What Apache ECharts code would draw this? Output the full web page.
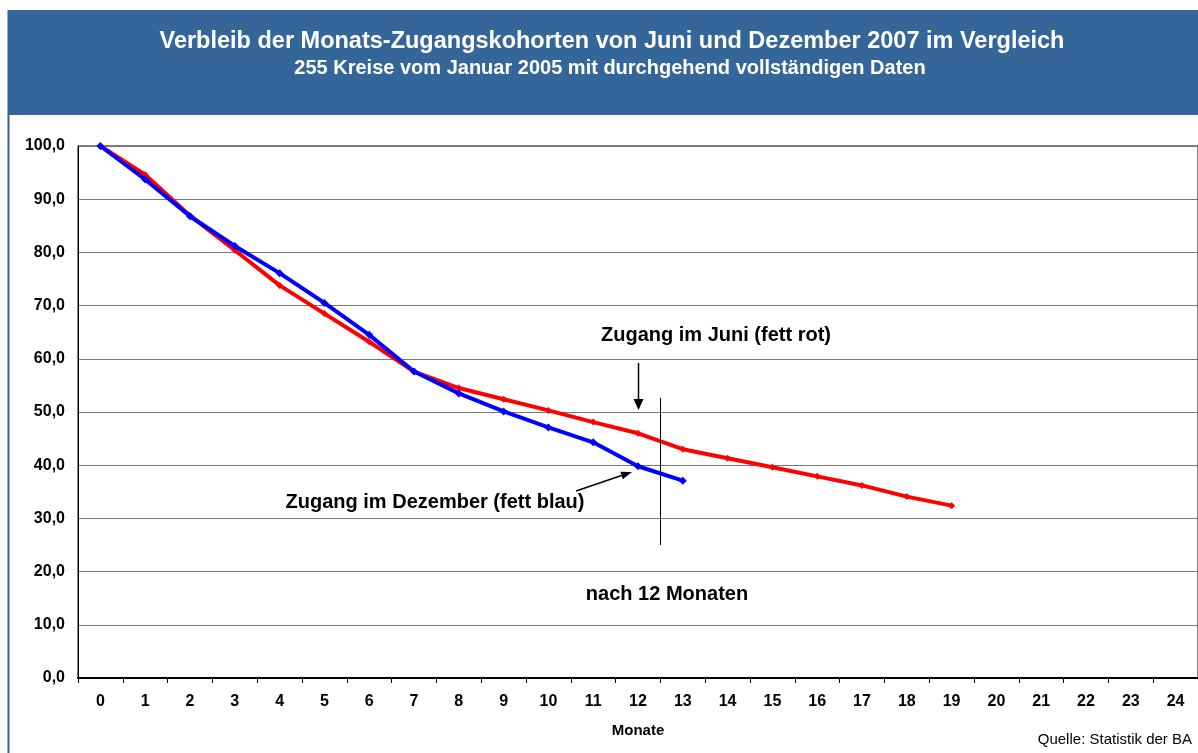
<!DOCTYPE html>
<html>
<head>
<meta charset="utf-8">
<script src="https://cdn.jsdelivr.net/npm/echarts@6/dist/echarts.min.js"></script>
<style>
  html, body { margin: 0; padding: 0; background: #fff; }
  #chart { width: 1198px; height: 753px; }
</style>
</head>
<body>
<div id="chart"></div>
<script>
// Monate seit Zugang
const monate = ['0','1','2','3','4','5','6','7','8','9','10','11','12','13','14','15','16','17','18','19','20','21','22','23','24']
// Verbleib in % – Zugang Juni 2007
const zugangJuni = [100, 94.6, 86.9, 80.4, 73.8, 68.5, 63.2, 57.6, 54.5, 52.4, 50.3, 48.1, 46.0, 43.0, 41.3, 39.6, 37.9, 36.2, 34.1, 32.4]
// Verbleib in % – Zugang Dezember 2007
const zugangDezember = [100, 93.7, 86.8, 81.2, 76.1, 70.5, 64.5, 57.6, 53.5, 50.1, 47.1, 44.3, 39.8, 37.1]

const titel = 'Verbleib der Monats-Zugangskohorten von Juni und Dezember 2007 im Vergleich'
const untertitel = '255 Kreise vom Januar 2005 mit durchgehend vollständigen Daten'

const FONT = 'Arial, "Liberation Sans", sans-serif'

const chart = echarts.init(document.getElementById('chart'))

const option = {
  animation: false,
  backgroundColor: '#fff',
  grid: {
    left: 78,
    right: 0,
    top: 146,
    bottom: 75,
    show: true,
    borderColor: '#000',
    borderWidth: 1
  },
  xAxis: {
    type: 'category',
    data: monate,
    boundaryGap: true,
    name: 'Monate',
    nameLocation: 'middle',
    nameGap: 45,
    nameTextStyle: { fontFamily: FONT, fontWeight: 'bold', fontSize: 15, color: '#000' },
    axisLine: { lineStyle: { color: '#000', width: 2 } },
    axisTick: { show: true, interval: 0, length: 5, lineStyle: { color: '#000' } },
    axisLabel: { interval: 0, margin: 16, fontFamily: FONT, fontWeight: 'bold', fontSize: 16, color: '#000' },
    splitLine: { show: false }
  },
  yAxis: {
    type: 'value',
    min: 0,
    max: 100,
    interval: 10,
    axisLine: { show: true, lineStyle: { color: '#000', width: 1 } },
    axisTick: { show: false },
    axisLabel: {
      margin: 13,
      fontFamily: FONT,
      fontWeight: 'bold',
      fontSize: 16,
      color: '#000',
      formatter: v => v.toFixed(1).replace('.', ',')
    },
    splitLine: { lineStyle: { color: '#777', width: 1 } }
  },
  series: [
    {
      name: 'Zugang im Juni',
      type: 'line',
      data: zugangJuni,
      symbol: 'diamond',
      symbolSize: 7,
      showAllSymbol: true,
      lineStyle: { color: '#ff0000', width: 4 },
      itemStyle: { color: '#ff0000' },
      z: 2
    },
    {
      name: 'Zugang im Dezember',
      type: 'line',
      data: zugangDezember,
      symbol: 'diamond',
      symbolSize: 8,
      showAllSymbol: true,
      lineStyle: { color: '#0000ff', width: 4 },
      itemStyle: { color: '#0000ff' },
      z: 3
    }
  ]
}

chart.setOption(option)

// Anmerkungen, Banner und Rahmen
const p12 = chart.convertToPixel({ xAxisIndex: 0 }, '12')
const p13 = chart.convertToPixel({ xAxisIndex: 0 }, '13')
const xGrenze = Math.round((p12 + p13) / 2) + 0.5
const yAt = v => chart.convertToPixel({ yAxisIndex: 0 }, v)

const txt = (x, y, text, size, weight, color, align) => ({
  type: 'text',
  x, y,
  style: {
    text,
    fill: color || '#000',
    font: `${weight || 'bold'} ${size}px ${FONT}`,
    textAlign: align || 'center',
    textVerticalAlign: 'middle'
  },
  z: 10
})

// Pfeil zum roten Verlauf (senkrecht)
const downTipY = yAt(50) - 2
// Pfeil zum blauen Verlauf (schräg)
const tip = [632, 472]
const tail = [576, 491]
const dx = tip[0] - tail[0], dy = tip[1] - tail[1]
const len = Math.hypot(dx, dy)
const ux = dx / len, uy = dy / len
const bx = tip[0] - ux * 11, by = tip[1] - uy * 11

chart.setOption({
  graphic: [
    { type: 'rect', shape: { x: 8, y: 10, width: 1190, height: 105 }, style: { fill: '#346699' }, z: 1 },
    { type: 'line', shape: { x1: 8.5, y1: 10, x2: 8.5, y2: 753 }, style: { stroke: '#346699', lineWidth: 2 }, z: 1 },
    txt(612, 42, titel, 23.5, 'bold', '#fff'),
    txt(610, 68, untertitel, 20, 'bold', '#fff'),

    txt(716, 335, 'Zugang im Juni (fett rot)', 20),
    { type: 'line', shape: { x1: 638.5, y1: 363, x2: 638.5, y2: downTipY - 8 }, style: { stroke: '#000', lineWidth: 1.5 }, z: 10 },
    { type: 'polygon', shape: { points: [[633.5, downTipY - 11], [643.5, downTipY - 11], [638.5, downTipY]] }, style: { fill: '#000' }, z: 10 },

    txt(435, 502, 'Zugang im Dezember (fett blau)', 20),
    { type: 'line', shape: { x1: tail[0], y1: tail[1], x2: bx, y2: by }, style: { stroke: '#000', lineWidth: 1.5 }, z: 10 },
    { type: 'polygon', shape: { points: [tip, [bx - uy * 4, by + ux * 4], [bx + uy * 4, by - ux * 4]] }, style: { fill: '#000' }, z: 10 },

    { type: 'line', shape: { x1: xGrenze, y1: 398, x2: xGrenze, y2: 545 }, style: { stroke: '#000', lineWidth: 1 }, z: 10 },
    txt(667, 594, 'nach 12 Monaten', 20),

    txt(1192, 740, 'Quelle: Statistik der BA', 15, 'normal', '#000', 'right')
  ]
})

window.addEventListener('resize', () => chart.resize())
</script>
</body>
</html>
